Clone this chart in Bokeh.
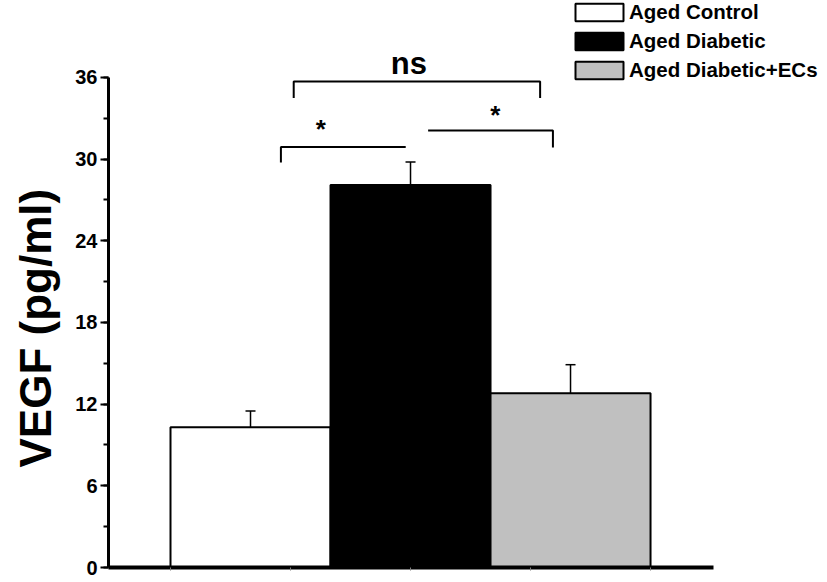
from bokeh.plotting import figure
from bokeh.models import (ColumnDataSource, Whisker, TeeHead, Legend, LegendItem, Title,
                          SingleIntervalTicker, FixedTicker, Range1d)
from bokeh.core.properties import value
from bokeh.embed import file_html
from bokeh.resources import INLINE

# ---- data ----
groups = ["Aged Control", "Aged Diabetic", "Aged Diabetic+ECs"]
positions = [1, 2, 3]
vegf = [10.3, 28.1, 12.8]
sem = [1.2, 1.7, 2.1]
colors = ["#ffffff", "#000000", "#c0c0c0"]

# significance brackets (x in bar positions, y in pg/ml)
sig_labels = ["*", "*", "ns"]
sig_x0 = [1.19, 2.11, 1.27]
sig_x1 = [1.97, 2.89, 2.81]
sig_y = [30.9, 32.1, 35.7]
sig_left_drop = [29.75, None, 34.5]
sig_right_drop = [None, 30.85, 34.5]
sig_text_x = [1.44, 2.53, 1.99]
sig_text_y = [32.23, 33.25, 37.03]
sig_text_size = ["26px", "26px", "31px"]

FONT = "Liberation Sans"

p = figure(width=819, height=582, frame_width=711, frame_height=567,
           output_backend="svg", toolbar_location=None,
           x_range=Range1d(0.1125, 4.556), y_range=Range1d(0, 41.657),
           min_border_left=108, min_border_right=0, min_border_top=0, min_border_bottom=15)
p.outline_line_color = None
p.xgrid.grid_line_color = None
p.ygrid.grid_line_color = None
p.background_fill_color = "white"

src = ColumnDataSource(dict(x=positions, top=vegf, group=groups, color=colors,
                            upper=[v + e for v, e in zip(vegf, sem)]))
bars = p.vbar(x="x", top="top", width=1.0, bottom=0, source=src,
              fill_color="color", line_color="black", line_width=2)

wh = Whisker(base="x", upper="upper", lower="top", source=src, dimension="height",
             line_color="black", line_width=1.5,
             upper_head=TeeHead(size=10, line_width=1.5, line_color="black"),
             lower_head=None)
p.add_layout(wh)

# brackets
xs, ys = [], []
for x0, x1, y, ld, rd in zip(sig_x0, sig_x1, sig_y, sig_left_drop, sig_right_drop):
    bx, by = [], []
    if ld is not None:
        bx.append(x0); by.append(ld)
    bx += [x0, x1]; by += [y, y]
    if rd is not None:
        bx.append(x1); by.append(rd)
    xs.append(bx); ys.append(by)
p.multi_line(xs=xs, ys=ys, line_color="black", line_width=2)
for t, tx, ty, ts in zip(sig_labels, sig_text_x, sig_text_y, sig_text_size):
    p.text(x=[tx], y=[ty], text=[t], text_font=value(FONT), text_font_style="bold",
           text_font_size=ts, text_align="center", text_baseline="middle",
           text_color="black")

# y axis
ya = p.yaxis[0]
ya.bounds = (0, 36)
ya.ticker = SingleIntervalTicker(interval=6, num_minor_ticks=2)
ya.axis_line_width = 3
ya.axis_line_color = "black"
ya.major_tick_out = 8
ya.major_tick_in = 0
ya.minor_tick_out = 5
ya.minor_tick_in = 0
ya.major_tick_line_width = 2
ya.minor_tick_line_width = 2
ya.major_tick_line_color = "black"
ya.minor_tick_line_color = "black"
ya.major_label_text_font = FONT
ya.major_label_text_font_style = "bold"
ya.major_label_text_font_size = "20px"
ya.major_label_text_color = "black"
ya.major_label_standoff = 3

# y axis title (placed as a side title so it can sit centred on the 0-36 rule)
ytitle = Title(text="VEGF (pg/ml)", align="left", vertical_align="top", offset=100,
               standoff=21, text_font=FONT, text_font_style="bold",
               text_font_size="44px", text_color="black")
p.add_layout(ytitle, "left")

# x axis
xa = p.xaxis[0]
xa.bounds = (0.1125, 3.894)
xa.ticker = FixedTicker(ticks=[0.5, 1.25, 2.0, 2.75, 3.5], minor_ticks=[])
xa.axis_line_width = 4
xa.axis_line_color = "black"
xa.major_tick_out = 3
xa.major_tick_in = 0
xa.major_tick_line_color = "#808080"
xa.major_tick_line_width = 1
xa.minor_tick_line_color = None
xa.major_label_overrides = {0.5: "", 1.25: "", 2: "", 2.75: "", 3.5: ""}
xa.major_label_text_font_size = "1px"
xa.major_label_standoff = 0

# legend
legend = Legend(items=[LegendItem(label=g, renderers=[bars], index=i) for i, g in enumerate(groups)],
                location=(461, 485), orientation="vertical",
                glyph_width=60, glyph_height=22, label_standoff=0, spacing=5,
                padding=0, margin=0, border_line_color=None, background_fill_alpha=0,
                label_text_font=FONT, label_text_font_style="bold",
                label_text_font_size="20.5px", label_text_color="black", label_height=18)
p.add_layout(legend, "center")

open("out.html", "w").write(file_html(p, INLINE))
